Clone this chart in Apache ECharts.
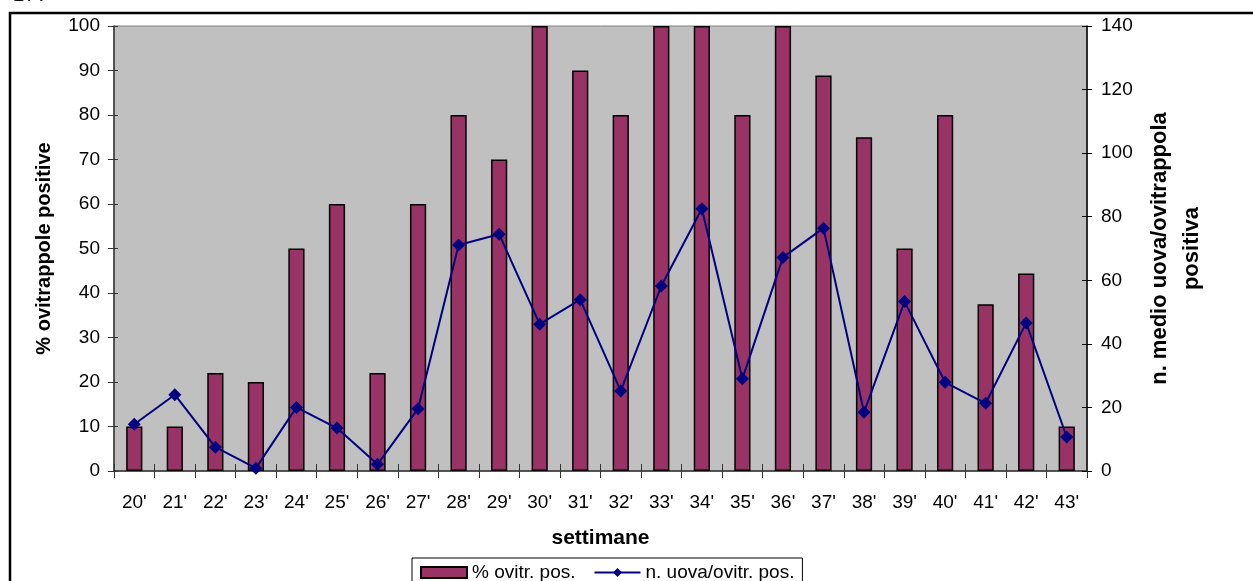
<!DOCTYPE html>
<html>
<head>
<meta charset="utf-8">
<title>Ovitrappole positive per settimana</title>
<script src="https://cdn.jsdelivr.net/npm/echarts@6/dist/echarts.min.js"></script>
<style>
  html, body { margin: 0; padding: 0; background: #fff; }
  #chart { width: 1253px; height: 581px; }
</style>
</head>
<body>
<div id="chart"></div>
<script>
// Weeks of sampling
const weeks = ["20'", "21'", "22'", "23'", "24'", "25'", "26'", "27'", "28'", "29'", "30'", "31'",
               "32'", "33'", "34'", "35'", "36'", "37'", "38'", "39'", "40'", "41'", "42'", "43'"];

// % of positive ovitraps per week (left axis)
const pctPositive = [10, 10, 22, 20, 50, 60, 22, 60, 80, 70, 100, 90,
                     80, 100, 100, 80, 100, 88.9, 75, 50, 80, 37.5, 44.4, 10];

// mean number of eggs per positive ovitrap (right axis)
const eggsPerTrap = [14.7, 24, 7.5, 0.9, 20, 13.5, 2.1, 19.6, 71.1, 74.5, 46.2, 53.9,
                     25.2, 58.2, 82.5, 29, 67.2, 76.4, 18.5, 53.3, 27.9, 21.3, 46.6, 10.7];

// axis ranges
const leftAxis = { min: 0, max: 100, step: 10 };
const rightAxis = { min: 0, max: 140, step: 20 };

const FONT = '"Liberation Sans", Arial, sans-serif';
const BAR_COLOR = '#993366';
const LINE_COLOR = '#000080';

const chart = echarts.init(document.getElementById('chart'), null, { renderer: 'canvas' });

const tickFont = { fontFamily: FONT, fontSize: 19, color: '#000' };
const titleFont = { fontFamily: FONT, fontWeight: 'bold', color: '#000' };

chart.setOption({
  animation: false,
  backgroundColor: '#fff',
  textStyle: { fontFamily: FONT },
  grid: {
    left: 114, right: 166, top: 26, bottom: 110,
    show: true,
    backgroundColor: '#C0C0C0',
    borderColor: '#808080',
    borderWidth: 1
  },
  legend: {
    left: 412, top: 558,
    padding: [5, 8, 14, 8],
    itemGap: 18,
    itemWidth: 46, itemHeight: 11,
    borderColor: '#000', borderWidth: 1,
    backgroundColor: '#fff',
    textStyle: { fontFamily: FONT, fontSize: 19, color: '#000' },
    data: [
      { name: '% ovitr. pos.', icon: 'rect' },
      { name: 'n. uova/ovitr. pos.' }
    ]
  },
  xAxis: [
    {
      type: 'category',
      data: weeks,
      boundaryGap: true,
      name: 'settimane',
      nameLocation: 'middle',
      nameGap: 57,
      nameTextStyle: Object.assign({ fontSize: 21 }, titleFont),
      axisLine: { lineStyle: { color: '#333', width: 1.5 } },
      axisTick: { show: true, length: 7, lineStyle: { color: '#333' } },
      axisLabel: Object.assign({ margin: 22, interval: 0 }, tickFont),
      splitLine: { show: false }
    },
    {
      // inner half of the crossing ticks
      type: 'category',
      data: weeks,
      position: 'bottom',
      boundaryGap: true,
      axisLine: { show: false },
      axisTick: { show: true, inside: true, length: 7, lineStyle: { color: '#333' } },
      axisLabel: { show: false },
      splitLine: { show: false }
    }
  ],
  yAxis: [
    {
      type: 'value',
      min: leftAxis.min, max: leftAxis.max, interval: leftAxis.step,
      position: 'left',
      name: '% ovitrappole positive',
      nameLocation: 'middle',
      nameRotate: 90,
      nameGap: 60,
      nameTextStyle: Object.assign({ fontSize: 20 }, titleFont),
      axisLine: { show: true, lineStyle: { color: '#333', width: 1.5 } },
      axisTick: { show: true, length: 6, lineStyle: { color: '#333' } },
      axisLabel: Object.assign({ margin: 14 }, tickFont),
      splitLine: { show: false }
    },
    {
      type: 'value',
      min: rightAxis.min, max: rightAxis.max, interval: rightAxis.step,
      position: 'right',
      name: 'n. medio uova/ovitrappola\npositiva',
      nameLocation: 'middle',
      nameRotate: 90,
      nameGap: 53,
      nameTextStyle: Object.assign({ fontSize: 22, lineHeight: 32, align: 'center' }, titleFont),
      axisLine: { show: true, lineStyle: { color: '#000', width: 1.5 } },
      axisTick: { show: true, length: 5, lineStyle: { color: '#000' } },
      axisLabel: Object.assign({ margin: 14 }, tickFont),
      splitLine: { show: false }
    },
    {
      // inner half of the crossing ticks, left
      type: 'value',
      min: leftAxis.min, max: leftAxis.max, interval: leftAxis.step,
      position: 'left',
      axisLine: { show: false },
      axisTick: { show: true, inside: true, length: 4, lineStyle: { color: '#333' } },
      axisLabel: { show: false },
      splitLine: { show: false }
    },
    {
      // inner half of the crossing ticks, right
      type: 'value',
      min: rightAxis.min, max: rightAxis.max, interval: rightAxis.step,
      position: 'right',
      axisLine: { show: false },
      axisTick: { show: true, inside: true, length: 5, lineStyle: { color: '#000' } },
      axisLabel: { show: false },
      splitLine: { show: false }
    }
  ],
  series: [
    {
      name: '% ovitr. pos.',
      type: 'bar',
      xAxisIndex: 0,
      yAxisIndex: 0,
      data: pctPositive,
      barWidth: '40%',
      itemStyle: { color: BAR_COLOR, borderColor: '#000', borderWidth: 1.5 }
    },
    {
      name: 'n. uova/ovitr. pos.',
      type: 'line',
      xAxisIndex: 0,
      yAxisIndex: 1,
      data: eggsPerTrap,
      symbol: 'diamond',
      symbolSize: 13,
      itemStyle: { color: LINE_COLOR },
      lineStyle: { color: LINE_COLOR, width: 2 },
      z: 3
    }
  ],
  graphic: [
    {
      // outer frame
      type: 'rect',
      silent: true,
      shape: { x: 10, y: 13, width: 1300, height: 700 },
      style: { fill: 'none', stroke: '#000', lineWidth: 2.5 },
      z: 10
    },
    {
      type: 'text',
      silent: true,
      left: 12, top: -19,
      style: { text: '17.', font: '26px "Liberation Serif", "Times New Roman", serif', fill: '#000' }
    }
  ]
});
</script>
</body>
</html>
